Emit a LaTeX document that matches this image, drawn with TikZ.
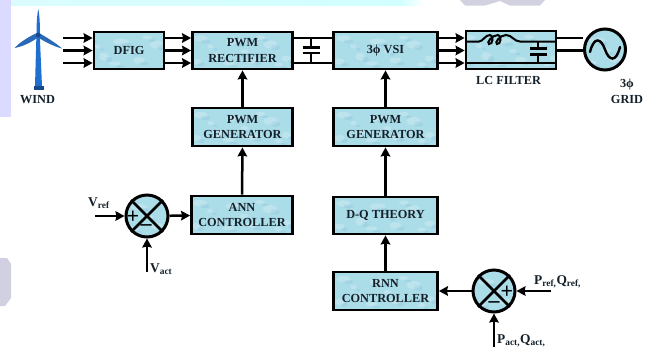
\documentclass[tikz,border=0pt]{standalone}
\usepackage{fontspec}
\setmainfont{Liberation Serif}
\usetikzlibrary{arrows.meta,calc}
\definecolor{boxfill}{HTML}{ABDDE9}
\definecolor{towerblue}{HTML}{1F6FD0}
\definecolor{bladeblue}{HTML}{2A68B8}
\definecolor{towerdark}{HTML}{174A8C}
\definecolor{textdark}{HTML}{14202A}
\tikzset{
  x=1pt,y=-1pt,
  mottled/.style={path picture={
    \foreach \dx/\dy/\rx/\ry in {-42/-12/7/3,-25/6/5/4,-8/-9/8/3,10/10/6/3,28/-6/7/4,44/8/5/3,-46/11/5/3,2/1/4/2,18/-13/5/2,-14/13/6/2,36/14/4/2,-32/-4/3/2}{
      \fill[white,opacity=.22] ($(path picture bounding box.center)+(\dx,\dy)$) ellipse ({\rx} and {\ry});
      \fill[cyan!40!blue,opacity=.07] ($(path picture bounding box.center)+(\dx+5,\dy+3)$) ellipse ({\rx*.7} and {\ry*.7});
    }}},
  block/.style={draw=black,line width=2.8pt,fill=boxfill,mottled,inner sep=0pt,align=center,
    font=\fontsize{12.3}{15.2}\selectfont\bfseries,text=textdark},
  plain/.style={inner sep=0pt,align=center,font=\fontsize{12.3}{15.2}\selectfont\bfseries,text=textdark},
  sumcircle/.style={circle,draw=black,line width=3pt,fill=boxfill,mottled,inner sep=0pt,minimum size=42pt},
  flow/.style={line width=2.5pt,-{Stealth[length=9pt,width=9.5pt,inset=1pt]}},
  wire/.style={line width=2.4pt},
  thin wire/.style={line width=2pt},
  sign/.style={inner sep=0pt,font=\fontsize{22}{22}\selectfont\bfseries},
  sublabel/.style={plain,anchor=west,font=\fontsize{13.4}{15}\selectfont\bfseries}
}
\newcommand{\blockat}[6]{\node[block,minimum width=#4 pt,minimum height=#5 pt] (#1) at (#2,#3) {#6};}
\begin{document}
\begin{tikzpicture}
\useasboundingbox (0,0) rectangle (651,349);
% background remnants
\fill[white] (0,0) rectangle (651,349);
\shade[left color=blue!8!cyan!14,right color=cyan!18] (0,0) rectangle (400,5.5);
\shade[left color=cyan!18,right color=white] (400,0) rectangle (425,5.5);
\fill[blue!20!gray!30] (460,0) -- (545,0) -- (540,5.5) -- (510,5.5) -- (500,1) -- (485,5.5) -- (465,5.5) -- cycle;
\fill[blue!14!white] (0,0) rectangle (11,117);
\fill[blue!22!gray!30] (0,258) -- (7,258) -- (11,264) -- (11,298) -- (5,306) -- (0,306) -- cycle;
% wind turbine
\fill[towerblue] (36.4,36) -- (39.8,36) -- (42,86) -- (35,86) -- cycle;
\fill[towerdark] (33.5,86) rectangle (44,90);
\fill[towerblue] (36.8,35) .. controls (36.3,25) and (37,15) .. (38.3,9) .. controls (39.5,15) and (40.2,25) .. (39.8,35) -- cycle;
\fill[bladeblue] (37,33) .. controls (30,36) and (20,42) .. (14.5,48) .. controls (23,46.5) and (32,42) .. (38.5,37) -- cycle;
\fill[bladeblue] (39,33) .. controls (46,37) and (56,43) .. (62,48.5) .. controls (54,46.5) and (44,41.5) .. (37.5,37) -- cycle;
\fill[towerdark] (38.3,35) circle (2.4);
\node[plain] (wind) at (37.5,99.5) {WIND};
% coordinates
\coordinate (windin1) at (63,38);
\coordinate (windin2) at (63,50.5);
\coordinate (windin3) at (63,63);
% blocks
\blockat{dfig}{129}{50.5}{70}{37}{DFIG}
\blockat{rect}{242.5}{50.5}{100}{37}{PWM\\RECTIFIER}
\blockat{vsi}{385.5}{50.5}{104}{37}{3ϕ VSI}
\blockat{filt}{511}{50}{90}{38}{}
\blockat{gen1}{242.5}{127}{100}{38}{PWM\\GENERATOR}
\blockat{gen2}{385.5}{127}{104}{38}{PWM\\GENERATOR}
\blockat{ann}{242}{215}{101}{38}{ANN\\CONTROLLER}
\blockat{dq}{385.5}{215.5}{104}{37}{D-Q THEORY}
\blockat{rnn}{385.5}{291}{104}{38}{RNN\\CONTROLLER}
\node[sumcircle] (sum1) at (147,216) {};
\node[sumcircle] (sum2) at (494,291) {};
\node[circle,draw=black,line width=3pt,fill=boxfill,mottled,inner sep=0pt,minimum size=41pt] (grid) at (605,49.5) {};
% sum crosses
\foreach \n in {sum1,sum2}{
  \draw[line width=2.8pt] (\n.45) -- (\n.225);
  \draw[line width=2.8pt] (\n.135) -- (\n.315);
}
\node[sign] at (133,217) {+};
\node[sign] at (146,228) {–};
\node[sign] at (507,292) {+};
\node[sign] at (494,304.5) {–};
% grid sine
\draw[line width=2.4pt,line cap=round] (590,52) .. controls (594,36) and (601,38) .. (605,49.5) .. controls (609,61) and (616,63) .. (620,47);
% wind arrows
\foreach \i in {1,2,3}{
  \draw[flow] (windin\i) -- (dfig.west |- windin\i);
  \draw[flow] (dfig.east |- windin\i) -- (rect.west |- windin\i);
  \draw[flow] (vsi.east |- windin\i) -- (filt.west |- windin\i);
}
% DC link
\coordinate (capT) at (311,47.5);
\coordinate (capB) at (311,53);
\draw[wire] (rect.east |- windin1) -- (vsi.west |- windin1);
\draw[wire] (rect.east |- windin3) -- (vsi.west |- windin3);
\draw[wire] (311,38) -- (capT);
\draw[wire] (capB) -- (311,63);
\draw[wire] (302.5,47.5) -- (320,47.5);
\draw[wire] (302.5,53) -- (320,53);
% LC filter interior
\draw[thin wire] (467,41.5) -- (479,41.5) .. controls (483,41.5) and (485,35) .. (490,35)
  .. controls (494,35) and (493,45) .. (489,44) .. controls (486,43) and (492,35) .. (498,35)
  .. controls (502,35) and (501,45) .. (497,44) .. controls (494,43) and (500,35) .. (506,35)
  .. controls (512,35) and (514,41.5) .. (520,41.5) -- (555,41.5);
\draw[thin wire] (467,62.5) -- (555,62.5);
\draw[thin wire] (538,41.5) -- (538,48.5);
\draw[thin wire] (538,54.5) -- (538,62.5);
\draw[wire] (530,48.5) -- (547,48.5);
\draw[wire] (530,54.5) -- (547,54.5);
% filter to grid
\draw[wire] (filt.east |- windin1) -- (grid.west |- windin1);
\draw[wire] (filt.east |- windin2) -- (grid.west |- windin2);
% vertical links
\draw[flow] (gen1) -- (rect);
\draw[flow] (ann) -- (gen1);
\draw[flow] (gen2) -- (vsi);
\draw[flow] (dq) -- (gen2);
\draw[flow] (rnn) -- (dq);
\draw[flow] (sum1) -- (ann);
\draw[flow] (sum2) -- (rnn);
% inputs
\coordinate (vrefc) at (95,216);
\coordinate (vactc) at (147,272);
\coordinate (prefc) at (551,291);
\coordinate (pactc) at (494,347);
\draw[flow] (vrefc) -- (sum1);
\draw[flow] (vactc) -- (sum1);
\draw[flow] (prefc) -- (sum2);
\draw[flow] (pactc) -- (sum2);
% labels
\node[plain] (lcl) at (508.5,80.5) {LC FILTER};
\node[plain,font=\fontsize{12.3}{16}\selectfont\bfseries] (gridl) at (627,91) {3ϕ\\GRID};
\node[sublabel] (vref) at (88,203) {V\textsubscript{ref}};
\node[sublabel] (vact) at (150,269) {V\textsubscript{act}};
\node[sublabel] (pref) at (534,282) {P\textsubscript{ref,}Q\textsubscript{ref,}};
\node[sublabel] (pact) at (497,341) {P\textsubscript{act,}Q\textsubscript{act,}};
\end{tikzpicture}
\end{document}
